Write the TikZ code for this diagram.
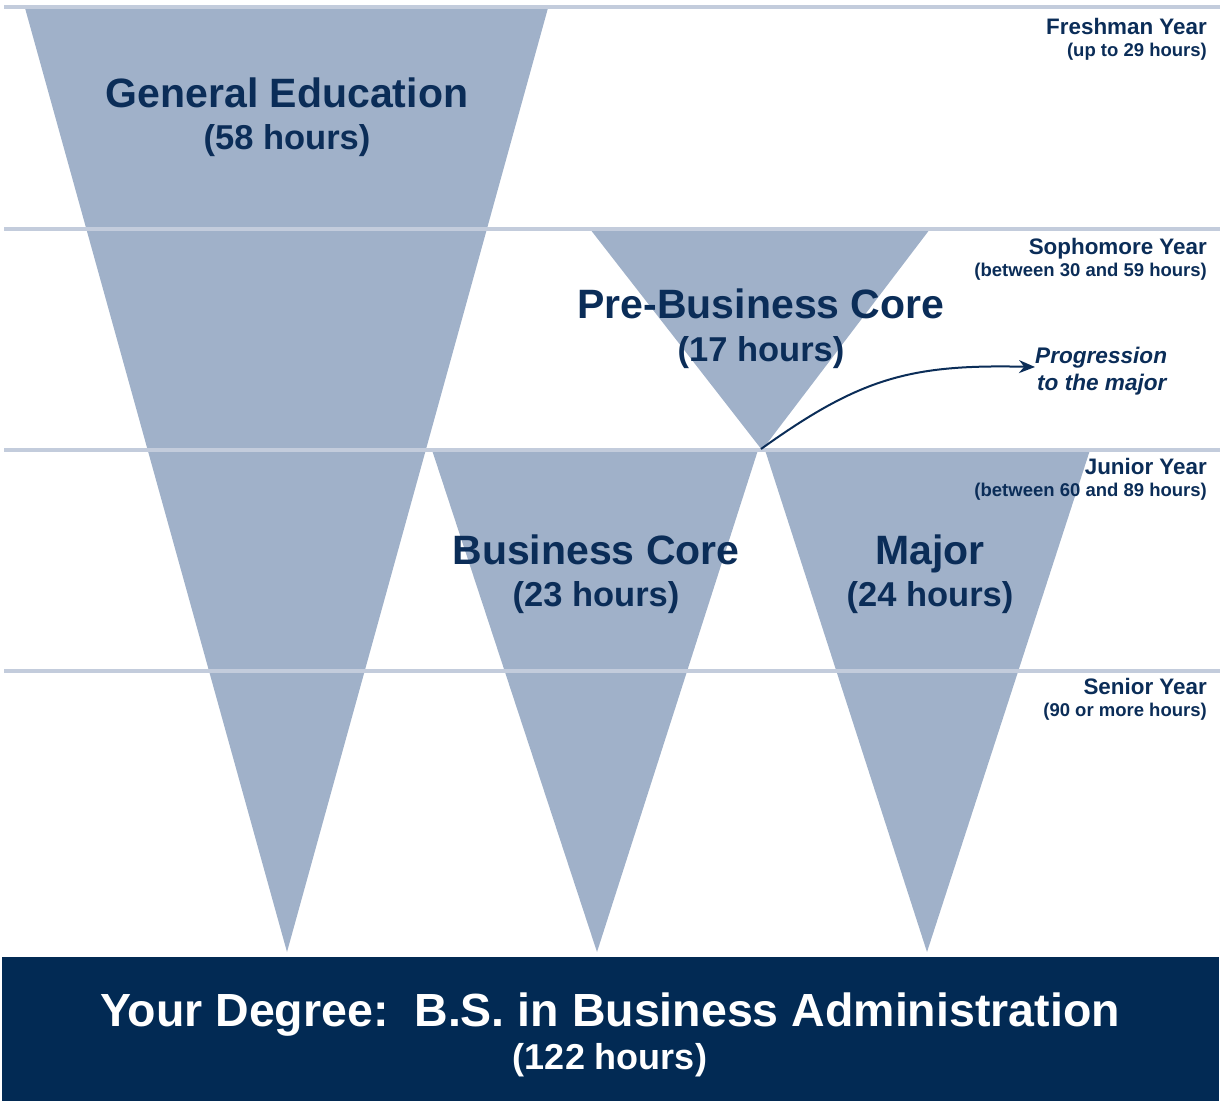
\documentclass[tikz,border=0pt]{standalone}
\usepackage{fontspec}
\setmainfont{Liberation Sans}
\usetikzlibrary{arrows.meta}
\definecolor{trifill}{HTML}{A0B1C9}
\definecolor{yearline}{HTML}{C3CCDC}
\definecolor{navy}{HTML}{0B2D58}
\definecolor{boxnavy}{HTML}{022A54}
\tikzset{
  tri/.style={fill=trifill, draw=none},
  yline/.style={draw=yearline, line width=4pt},
  titleA/.style={inner sep=0pt, anchor=base, text=navy, font=\bfseries\fontsize{41}{48}\selectfont},
  titleB/.style={inner sep=0pt, anchor=base, text=navy, font=\bfseries\fontsize{34.5}{40}\selectfont},
  yearA/.style={inner sep=0pt, anchor=base east, text=navy, font=\bfseries\fontsize{22.4}{26}\selectfont},
  yearB/.style={inner sep=0pt, anchor=base east, text=navy, font=\bfseries\fontsize{18.5}{22}\selectfont},
  prog/.style={inner sep=0pt, anchor=base west, text=navy, font=\bfseries\itshape\fontsize{22.6}{26}\selectfont},
  degA/.style={inner sep=0pt, anchor=base, text=white, font=\bfseries\fontsize{46.5}{52}\selectfont},
  degB/.style={inner sep=0pt, anchor=base, text=white, font=\bfseries\fontsize{36}{42}\selectfont},
  progarrow/.style={draw=navy, line width=2pt, -{Stealth[length=16pt,width=13pt]}}
}
\begin{document}
\begin{tikzpicture}[x=1pt,y=-1pt]
\useasboundingbox (0,0) rectangle (1225,1101);
% triangles
\fill[tri] (25,8) -- (548,8) -- (287,952) -- cycle;
\fill[tri] (590,229) -- (930,229) -- (762,450) -- cycle;
\fill[tri] (432,450) -- (758,450) -- (597,952) -- cycle;
\fill[tri] (765,450) -- (1090,450) -- (927,952) -- cycle;
% year lines
\draw[yline] (4,7) -- (1220,7);
\draw[yline] (4,229) -- (1220,229);
\draw[yline] (4,450) -- (1220,450);
\draw[yline] (4,671) -- (1220,671);
% bottom box
\fill[boxnavy] (2,957) rectangle (1219,1101);
% titles
\node[titleA] (ge1) at (287,107) {General Education};
\node[titleB] (ge2) at (287,149) {(58 hours)};
\node[titleA] (pb1) at (761,318) {Pre-Business Core};
\node[titleB] (pb2) at (761,361) {(17 hours)};
\node[titleA] (bc1) at (596,564) {Business Core};
\node[titleB] (bc2) at (596,606) {(23 hours)};
\node[titleA] (mj1) at (930,564) {Major};
\node[titleB] (mj2) at (930,606) {(24 hours)};
% year labels
\node[yearA] (fy1) at (1207,34) {Freshman Year};
\node[yearB] (fy2) at (1207,56) {(up to 29 hours)};
\node[yearA] (so1) at (1207,254) {Sophomore Year};
\node[yearB] (so2) at (1207,276) {(between 30 and 59 hours)};
\node[yearA] (ju1) at (1207,474) {Junior Year};
\node[yearB] (ju2) at (1207,496) {(between 60 and 89 hours)};
\node[yearA] (se1) at (1207,694) {Senior Year};
\node[yearB] (se2) at (1207,716) {(90 or more hours)};
% progression
\node[prog] (pr1) at (1035,363) {Progression};
\node[prog] (pr2) at (1037,390) {to the major};
\coordinate (pbapex) at (761,449);
\coordinate (progend) at (1035,367);
\draw[progarrow] (pbapex) .. controls (860,378) and (910,364) .. (progend);
% degree
\node[degA] (deg1) at (610,1026) {Your Degree:\ \ B.S. in Business Administration};
\node[degB] (deg2) at (610,1069) {(122 hours)};
\end{tikzpicture}
\end{document}
